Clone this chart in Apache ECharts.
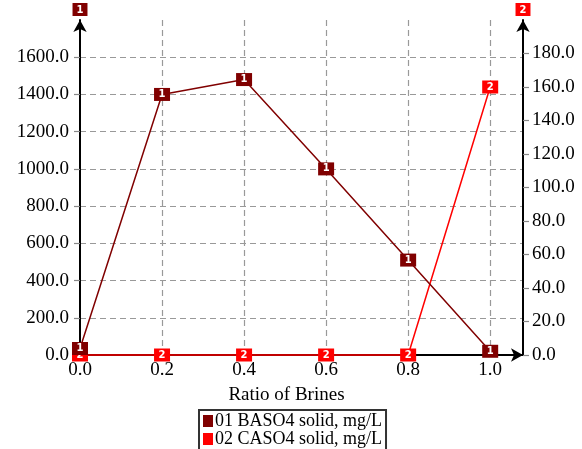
<!DOCTYPE html>
<html>
<head>
<meta charset="utf-8">
<script src="https://cdn.jsdelivr.net/npm/echarts@6/dist/echarts.min.js"></script>
<style>
  html, body { margin: 0; padding: 0; background: #fff; }
  #chart { width: 582px; height: 449px; }
</style>
</head>
<body>
<div id="chart"></div>
<script>
// ratio of brines (x)
const ratios = [0.0, 0.2, 0.4, 0.6, 0.8, 1.0];
// 01 BASO4 solid, mg/L (left axis)
const baso4 = [35, 1400, 1480, 1000, 510, 20];
// 02 CASO4 solid, mg/L (right axis)
const caso4 = [0, 0, 0, 0, 0, 160];

const seriesNames = ["01 BASO4 solid, mg/L", "02 CASO4 solid, mg/L"];
const colors = ["#800000", "#ff0000"];
const serif = "Liberation Serif";

const chart = echarts.init(document.getElementById("chart"));

// 带编号的方块标记
const makeSeries = (name, values, color, num, yIdx, z) => ({
  name: name,
  type: "line",
  yAxisIndex: yIdx,
  z: z,
  data: ratios.map((r, i) => [r, values[i]]),
  symbol: "rect",
  symbolSize: [16, 13],
  clip: false,
  lineStyle: { color: color, width: 1.5 },
  itemStyle: { color: color },
  label: {
    show: true,
    position: "inside",
    formatter: num,
    color: "#fff",
    fontSize: 10,
    fontWeight: "bold",
    fontFamily: "DejaVu Sans"
  },
  emphasis: { disabled: true }
});

const badge = (color) => ({
  color: "#fff",
  backgroundColor: color,
  fontSize: 10,
  fontWeight: "bold",
  fontFamily: "DejaVu Sans",
  padding: [2, 4, 1, 4]
});

const axisLine = {
  show: true,
  symbol: ["none", "arrow"],
  symbolSize: [10, 12],
  lineStyle: { color: "#000", width: 2 }
};

const splitLine = {
  show: true,
  showMinLine: false,
  showMaxLine: false,
  lineStyle: { color: "#999", type: [6, 4], width: 1.2 }
};

const valueLabel = (margin) => ({
  color: "#000",
  fontSize: 19,
  fontFamily: serif,
  margin: margin,
  showMaxLabel: false,
  formatter: (v) => v.toFixed(1)
});

chart.setOption({
  animation: false,
  grid: { left: 80, right: 59, top: 20, bottom: 94 },
  legend: {
    data: seriesNames,
    orient: "vertical",
    left: 199,
    top: 410,
    height: 36,
    itemGap: 0,
    itemWidth: 10,
    itemHeight: 12,
    icon: "rect",
    padding: [2, 4, 2, 4],
    borderColor: "#333",
    borderWidth: 2,
    backgroundColor: "#fff",
    textStyle: { color: "#000", fontSize: 18, lineHeight: 16, fontFamily: serif, padding: [0, 0, 0, -3] }
  },
  xAxis: {
    type: "value",
    min: 0,
    max: 1.08,
    interval: 0.2,
    name: "Ratio of Brines",
    nameLocation: "middle",
    nameGap: 31,
    nameTextStyle: { color: "#000", fontSize: 19, fontFamily: serif, padding: [0, 30, 0, 0] },
    axisLine: axisLine,
    axisTick: { show: false },
    axisLabel: valueLabel(6),
    splitLine: splitLine
  },
  yAxis: [
    {
      type: "value",
      min: 0,
      max: 1800,
      interval: 200,
      name: "1",
      nameLocation: "end",
      nameGap: 4,
      nameTextStyle: badge(colors[0]),
      axisLine: axisLine,
      axisTick: { show: true, length: 6, lineStyle: { color: "#888", width: 1.2 } },
      axisLabel: valueLabel(11),
      splitLine: splitLine
    },
    {
      type: "value",
      min: 0,
      max: 200,
      interval: 20,
      name: "2",
      nameLocation: "end",
      nameGap: 4,
      nameTextStyle: badge(colors[1]),
      alignTicks: false,
      axisLine: axisLine,
      axisTick: { show: true, length: 6, lineStyle: { color: "#888", width: 1.2 } },
      axisLabel: valueLabel(9),
      splitLine: { show: false }
    }
  ],
  series: [
    makeSeries(seriesNames[1], caso4, colors[1], "2", 1, 2),
    makeSeries(seriesNames[0], baso4, colors[0], "1", 0, 3)
  ]
});
</script>
</body>
</html>
